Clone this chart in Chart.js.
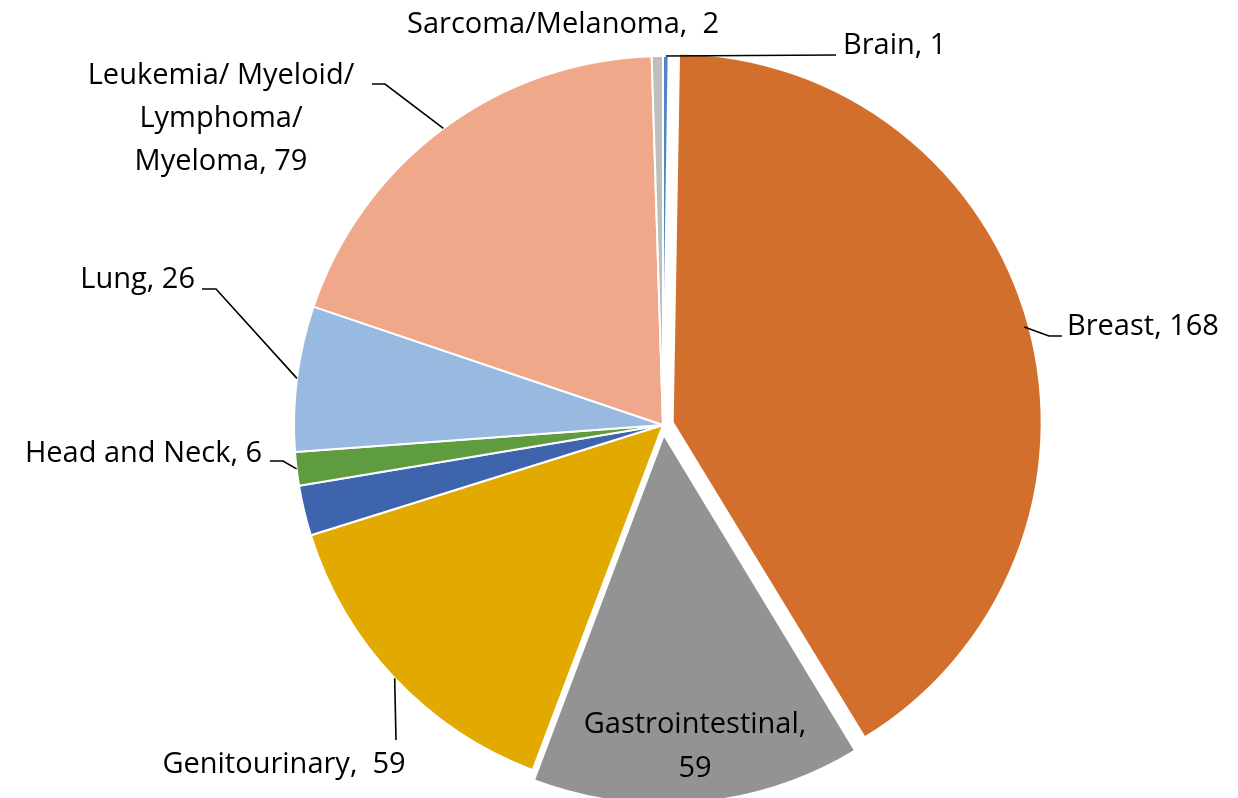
<!DOCTYPE html>
<html><head><meta charset="utf-8">
<script src="https://cdn.jsdelivr.net/npm/chart.js@4.4.1/dist/chart.umd.min.js"></script>
<style>html,body{margin:0;padding:0;background:#fff;}</style>
</head><body>
<canvas id="c" width="1238" height="798"></canvas>
<script>
// ---- data ----
const categories = ["Brain","Breast","Gastrointestinal","Genitourinary","Gynecologic","Head and Neck","Lung","Leukemia/ Myeloid/ Lymphoma/ Myeloma","Sarcoma/Melanoma"];
const values = [1,168,59,59,9,6,26,79,2];
const colors = ["#4E87C4","#D36F2D","#939393","#E2AA00","#3D64AD","#5F9B3F","#98B9E0","#F0A88B","#BEBEBE"];
const labelLines = [
  ["Brain, 1"],
  ["Breast, 168"],
  ["Gastrointestinal,","59"],
  ["Genitourinary,  59"],
  null,
  ["Head and Neck, 6"],
  ["Lung, 26"],
  ["Leukemia/ Myeloid/","Lymphoma/","Myeloma, 79"],
  ["Sarcoma/Melanoma,  2"]
];
const explode = [0,40,40,0,0,0,0,0,0];

// ---- label layout (positions only) ----
const labelLayout = [
  {x:843, y:[54], align:'left', leader:[[836,55]]},
  {x:1067, y:[335], align:'left', leader:[[1049,336],[1062,336]]},
  {x:695, y:[733,777], align:'center', leader:null},
  {x:284, y:[773], align:'center', leader:[[396,740]]},
  null,
  {x:262, y:[462], align:'right', leader:[[283,461],[270,461]]},
  {x:195, y:[288], align:'right', leader:[[216,289],[202,289]]},
  {x:221, y:[84,127,170], align:'center', leader:[[385,84],[372,84]]},
  {x:563, y:[33], align:'center', leader:null}
];

// keep exploded slices at the same radius as the others
const keepRadius = {
  id:'keepRadius',
  beforeDatasetsDraw(chart){
    const meta = chart.getDatasetMeta(0);
    meta.data.forEach(arc => {
      const off = (arc.options.offset || 0) / 4;
      if (!off || arc._radFixed) return;
      const fix = 1 - Math.sin(Math.min(Math.PI, arc.circumference || 0));
      arc.outerRadius -= off * fix;
      arc._radFixed = true;
    });
  }
};

const labelPlugin = {
  id:'outLabels',
  afterDatasetsDraw(chart){
    const ctx = chart.ctx;
    const meta = chart.getDatasetMeta(0);
    ctx.save();
    ctx.font = '29px "Open Sans"';
    ctx.fillStyle = '#000';
    ctx.strokeStyle = '#000';
    ctx.lineWidth = 1.6;
    meta.data.forEach((arc, i) => {
      const lay = labelLayout[i];
      const lines = labelLines[i];
      if (!lay || !lines) return;
      if (lay.leader) {
        const p = arc.getProps(['x','y','startAngle','endAngle','outerRadius'], true);
        const mid = (p.startAngle + p.endAngle) / 2;
        const off = (arc.options.offset || 0) / 4;
        const ax = p.x + Math.cos(mid) * (p.outerRadius + off);
        const ay = p.y + Math.sin(mid) * (p.outerRadius + off);
        ctx.beginPath();
        ctx.moveTo(ax, ay);
        lay.leader.forEach(pt => ctx.lineTo(pt[0], pt[1]));
        ctx.stroke();
      }
      ctx.textAlign = lay.align;
      ctx.textBaseline = 'alphabetic';
      lines.forEach((t, k) => ctx.fillText(t, lay.x, lay.y[k]));
    });
    ctx.restore();
  }
};

new Chart(document.getElementById('c'), {
  type: 'pie',
  data: {
    labels: categories,
    datasets: [{
      data: values,
      backgroundColor: colors,
      borderColor: '#ffffff',
      borderWidth: 2,
      offset: explode,
      hoverOffset: 0
    }]
  },
  options: {
    responsive: false,
    animation: false,
    radius: 369,
    layout: {padding: {left: 88, top: 52, right: 0, bottom: 0}},
    plugins: {legend: {display: false}, tooltip: {enabled: false}}
  },
  plugins: [keepRadius, labelPlugin]
});
</script>
</body></html>
